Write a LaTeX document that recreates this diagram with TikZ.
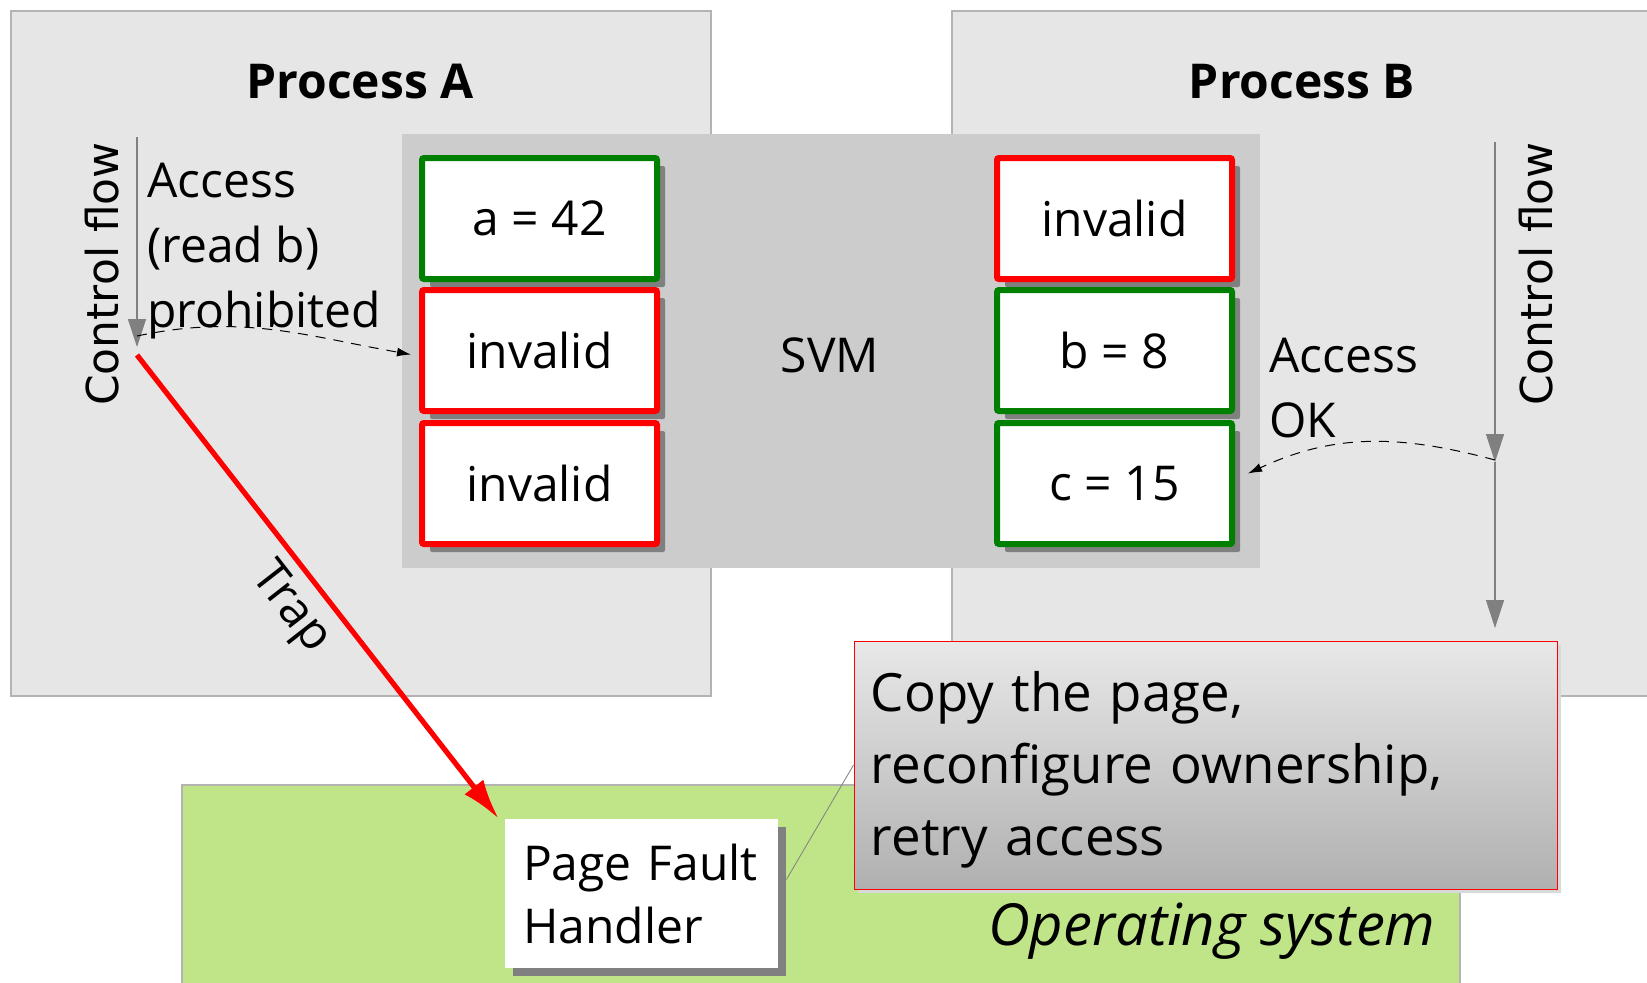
\documentclass[tikz,border=0pt]{standalone}
\usepackage{fontspec}
\setmainfont{Open Sans}
\newfontfamily\flowfont{DejaVu Sans}
\usetikzlibrary{arrows.meta,shadows}
\definecolor{ProcClr}{HTML}{E6E6E6}
\definecolor{ProcLineClr}{HTML}{B3B3B3}
\definecolor{SvmClr}{HTML}{CCCCCC}
\definecolor{OkClr}{HTML}{008000}
\definecolor{BadClr}{HTML}{FF0000}
\definecolor{OsClr}{HTML}{C0E588}
\definecolor{ShadowClr}{HTML}{808080}
\definecolor{NoteTopClr}{HTML}{E8E8E8}
\definecolor{NoteBotClr}{HTML}{B0B0B0}

\begin{document}
\begin{tikzpicture}[x=0.5pt,y=-0.5pt,
  every node/.style={font=\fontsize{24}{32.5}\selectfont,inner sep=0pt},
  proc/.style={draw=ProcLineClr,line width=0.75pt,fill=ProcClr,minimum width=350pt,minimum height=342.5pt},
  title/.style={font=\fontsize{24}{30}\selectfont\bfseries},
  cell/.style={line width=3pt,fill=white,rounded corners=1pt,minimum width=117.5pt,minimum height=60.5pt,
    drop shadow={shadow xshift=4pt,shadow yshift=-4pt,fill=ShadowClr,opacity=1}},
  okcell/.style={cell,draw=OkClr},
  badcell/.style={cell,draw=BadClr},
  flow/.style={draw=ShadowClr,line width=0.6pt,-{Triangle[length=14pt,width=9pt]}},
  flowtext/.style={font=\fontsize{22}{26}\flowfont,rotate=90},
  access/.style={draw=black,line width=0.5pt,dash pattern=on 5pt off 4pt,-{Latex[length=7pt,width=4.5pt]}},
  trap/.style={draw=BadClr,line width=2.6pt,-{Latex[length=20pt,width=12pt]}}
]
\useasboundingbox (0,0) rectangle (1647,982);
\clip (0,0) rectangle (1647,982);

\node[proc] (procA) at (361,353.5) {};
\node[proc,minimum width=354pt] (procB) at (1306,353.5) {};
\node[title] (procAlbl) at (360,82) {Process A};
\node[title] (procBlbl) at (1302,82) {Process B};

\node[fill=SvmClr,minimum width=429pt,minimum height=217pt] (svm) at (831,351) {};
\node (svmlbl) at (830,355) {SVM};

\node[okcell] (a1) at (539.5,218.5) {a = 42};
\node[badcell] (a2) at (539.5,350.5) {invalid};
\node[badcell] (a3) at (539.5,483.5) {invalid};
\node[badcell] (b1) at (1114.5,218.5) {invalid};
\node[okcell] (b2) at (1114.5,350.5) {b = 8};
\node[okcell] (b3) at (1114.5,483.5) {c = 15};

\coordinate (cfAtop) at (137,137);
\coordinate (cfAend) at (137,347);
\coordinate (cfBtop) at (1495,142);
\coordinate (cfBmid) at (1495,462);
\coordinate (cfBend) at (1495,628);
\draw[flow] (cfAtop) -- (cfAend);
\draw[flow] (cfBtop) -- (cfBmid);
\draw[flow] (cfBmid) -- (cfBend);
\node[flowtext] (cfAlbl) at (102,274) {Control flow};
\node[flowtext] (cfBlbl) at (1536,274) {Control flow};

\node[anchor=west,align=left] (reqA) at (147,251) {Access\\(read b)\\prohibited};
\node[anchor=west,align=left] (reqB) at (1269,388) {Access\\OK};
\coordinate (accA) at (137,336);
\coordinate (accB) at (1495,460);
\draw[access] (accA) to[out=12,in=170] ([xshift=-4pt,yshift=-2pt]a2.west);
\draw[access] (accB) to[out=165,in=25] ([xshift=6.5pt,yshift=5pt]b3.east);

\node[fill=OsClr,draw=ProcLineClr,line width=0.75pt,minimum width=639pt,minimum height=110pt] (os) at (821,895) {};
\node[font=\fontsize{29}{34}\selectfont\itshape,anchor=east] (oslbl) at (1436,931) {Operating system};
\node[fill=white,minimum width=136.5pt,minimum height=74.5pt,text width=118.5pt,align=left,
  font=\fontsize{24}{31.5}\selectfont,
  drop shadow={shadow xshift=4pt,shadow yshift=-4pt,fill=ShadowClr,opacity=1}] (pfh) at (641.5,893.5) {Page Fault\\Handler};

\node[draw=BadClr,line width=0.5pt,top color=NoteTopClr,bottom color=NoteBotClr,
  minimum width=351.5pt,minimum height=124pt,
  drop shadow={shadow xshift=2pt,shadow yshift=-2pt,fill=gray!30,opacity=1}] (note) at (1205.5,765) {};
\node[text width=334.5pt,align=left,anchor=west,font=\fontsize{26.4}{36}\selectfont] (notetxt) at ([xshift=8.5pt,yshift=-2.5pt]note.west) {Copy the page,\\reconfigure ownership,\\retry access};
\draw[ShadowClr,line width=0.4pt] ([xshift=4pt,yshift=7pt]pfh.east) -- (note.west);

\coordinate (trapA) at (137,355);
\draw[trap] (trapA) -- ([xshift=-3pt]pfh.north west) node[sloped,below=5pt,pos=.5] (traplbl) {Trap};
\end{tikzpicture}
\end{document}
